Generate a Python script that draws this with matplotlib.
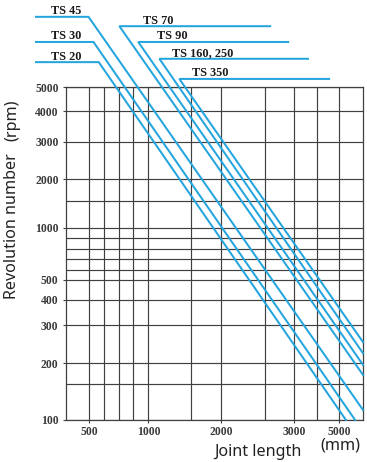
import numpy as np
import matplotlib
matplotlib.use("Agg")
import matplotlib.pyplot as plt

# ---------------- data ----------------
series_names = ["TS 20", "TS 30", "TS 45", "TS 70", "TS 90", "TS 160, 250", "TS 350"]
# each series: leader end, corner, exit point (joint length mm, revolutions rpm)
len_ts20 = [160, 560, 5270];   rpm_ts20 = [6300, 6300, 100]
len_ts30 = [160, 525, 5650];   rpm_ts30 = [7600, 7600, 100]
len_ts45 = [160, 490, 6000];   rpm_ts45 = [9600, 9600, 112]
len_ts70 = [2580, 700, 6000];  rpm_ts70 = [8800, 8800, 170]
len_ts90 = [2890, 860, 6000];  rpm_ts90 = [7600, 7600, 195]
len_ts160 = [3570, 1110, 6000]; rpm_ts160 = [6500, 6500, 222]
len_ts350 = [4520, 1340, 6000]; rpm_ts350 = [5390, 5390, 250]

x_major = [500, 1000, 2000, 3000, 5000]
x_minor = [600, 700, 800, 1500, 2500, 4000]
y_major = [100, 200, 300, 400, 500, 1000, 2000, 3000, 4000, 5000]
y_minor = [150, 600, 700, 800, 900, 1500]
x_limits = [300, 6000]
y_limits = [100, 5000]

# ---------------- chart's own (non-uniform) scale geometry ----------------
x_anchor_vals = [300, 500, 600, 700, 800, 1000, 1500, 2000, 2500, 3000, 4000, 5000, 6000]
x_anchor_pos = [65, 89, 104, 119, 133, 148, 191, 221, 265, 294, 317, 339, 363]
y_anchor_vals = [100, 150, 200, 300, 400, 500, 600, 700, 800, 900, 1000, 1500, 2000, 3000, 4000, 5000]
y_anchor_pos = [-420, -384, -363, -325, -300, -280, -270, -259, -249, -238, -228, -201, -179, -142, -111, -87]


def make_scale(vals, pos):
    lv = np.log10(np.asarray(vals, float))
    ps = np.asarray(pos, float)
    s0 = (ps[1] - ps[0]) / (lv[1] - lv[0])
    s1 = (ps[-1] - ps[-2]) / (lv[-1] - lv[-2])

    def fwd(v):
        v = np.asarray(v, float)
        l = np.log10(np.clip(v, 1e-9, None))
        out = np.interp(l, lv, ps)
        out = np.where(l < lv[0], ps[0] + (l - lv[0]) * s0, out)
        out = np.where(l > lv[-1], ps[-1] + (l - lv[-1]) * s1, out)
        return out

    def inv(p):
        p = np.asarray(p, float)
        l = np.interp(p, ps, lv)
        l = np.where(p < ps[0], lv[0] + (p - ps[0]) / s0, l)
        l = np.where(p > ps[-1], lv[-1] + (p - ps[-1]) / s1, l)
        return 10 ** l

    return fwd, inv


W, H = 367, 462
fig = plt.figure(figsize=(W / 100, H / 100), dpi=100)
fig.patch.set_facecolor("white")
ax = fig.add_axes([65.5 / W, 1 - 420 / H, (363 - 65.5) / W, (420 - 87) / H])

ax.set_xscale("function", functions=make_scale(x_anchor_vals, x_anchor_pos))
ax.set_yscale("function", functions=make_scale(y_anchor_vals, y_anchor_pos))
ax.set_xlim(*x_limits)
ax.set_ylim(*y_limits)

grid_c = "#404040"
ax.set_xticks(x_major)
ax.set_xticks(x_minor, minor=True)
ax.set_yticks(y_major)
ax.set_yticks(y_minor, minor=True)
ax.set_xticklabels([str(v) for v in x_major])
ax.set_yticklabels([str(v) for v in y_major])
ax.grid(True, which="both", color=grid_c, lw=0.85)
ax.set_axisbelow(True)
for sp in ax.spines.values():
    sp.set_color(grid_c)
    sp.set_linewidth(0.9)
ax.tick_params(which="both", length=2, width=0.8, color=grid_c, direction="out")
ax.tick_params(axis="x", which="minor", length=0)
ax.tick_params(axis="y", which="minor", length=0)
for lab in ax.get_xticklabels() + ax.get_yticklabels():
    lab.set_fontfamily("Liberation Serif")
    lab.set_fontsize(8.4)
    lab.set_fontweight("bold")
    lab.set_color("#3a3a3a")
ax.tick_params(axis="x", pad=2)
ax.tick_params(axis="y", pad=3)

line_c = "#25a5de"
all_len = [len_ts20, len_ts30, len_ts45, len_ts70, len_ts90, len_ts160, len_ts350]
all_rpm = [rpm_ts20, rpm_ts30, rpm_ts45, rpm_ts70, rpm_ts90, rpm_ts160, rpm_ts350]
label_dx = [15, 15, 15, 24, 19, 13, 13]
for i, (name, L, N) in enumerate(zip(series_names, all_len, all_rpm)):
    ax.plot(L, N, color=line_c, lw=1.45, clip_on=False, solid_joinstyle="miter", zorder=3)
    k = 0 if i < 3 else 1  # label sits at left end of the leader
    ax.annotate(name, xy=(L[k], N[k]), xytext=(label_dx[i], 2.5), textcoords="offset pixels",
                ha="left", va="baseline", family="Liberation Serif", fontsize=8.8,
                fontweight="bold", color="#1a1a1a", annotation_clip=False)

fig.text(258 / W, 1 - 452 / H, "Joint length", ha="center", va="center",
         family="Noto Sans", fontsize=11.6, color="#222222")
fig.text(340 / W, 1 - 446 / H, "(mm)", ha="center", va="center",
         family="Noto Sans", fontsize=11.6, color="#222222")
fig.text(12 / W, 1 - 226 / H, "Revolution number", ha="center", va="center",
         rotation=90, family="Noto Sans", fontsize=11.6, color="#222222")
fig.text(12 / W, 1 - 120 / H, "(rpm)", ha="center", va="center",
         rotation=90, family="Noto Sans", fontsize=11.6, color="#222222")

fig.savefig("out.png", dpi=100, facecolor="white")
